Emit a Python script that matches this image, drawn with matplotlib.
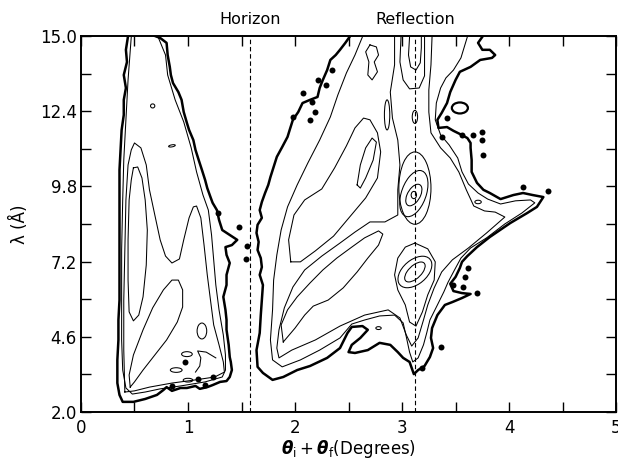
import numpy as np
import matplotlib

matplotlib.use("Agg")
import matplotlib.pyplot as plt
from matplotlib.patches import Ellipse

plt.rcParams["font.family"] = ["DejaVu Sans"]
plt.rcParams["mathtext.fontset"] = "dejavusans"

# --- reference lines ------------------------------------------------------
marker_x = [1.58, 3.12]
marker_labels = ["Horizon", "Reflection"]

# --- axis ticks -----------------------------------------------------------
x_major = [0, 1, 2, 3, 4, 5]
x_minor = [0.5, 1.5, 2.5, 3.5, 4.5]
y_major = [2.0, 4.6, 7.2, 9.8, 12.4, 15.0]
y_minor = [3.3, 5.9, 8.5, 11.1, 13.7]

# --- contour traces, (theta_i + theta_f [deg], lambda [A]) -----------------
# lowest level (heavy line), left lobe
L1 = [(0.44, 15.0), (0.42, 14.52), (0.43, 14.10), (0.40, 13.65), (0.42, 13.20),
      (0.40, 12.79), (0.40, 12.27), (0.38, 11.75), (0.37, 11.06), (0.36, 10.37),
      (0.36, 9.78), (0.36, 8.98), (0.36, 8.29), (0.36, 7.43), (0.36, 6.56),
      (0.36, 5.87), (0.35, 5.18), (0.35, 4.49), (0.34, 3.80), (0.34, 3.00),
      (0.36, 2.59), (0.39, 2.35), (0.49, 2.35), (0.60, 2.45), (0.71, 2.59),
      (0.77, 2.76), (0.80, 2.86), (0.85, 2.73), (0.93, 2.83), (0.99, 2.83),
      (1.07, 2.90), (1.11, 2.80), (1.18, 2.86), (1.23, 2.93), (1.30, 3.04),
      (1.36, 3.07), (1.39, 3.21), (1.41, 3.45), (1.40, 3.73), (1.39, 3.90),
      (1.38, 4.32), (1.36, 4.84), (1.36, 5.18), (1.35, 5.53), (1.33, 5.98),
      (1.36, 6.39), (1.36, 6.74), (1.39, 7.15), (1.36, 7.43), (1.35, 7.70),
      (1.41, 7.77), (1.46, 7.95), (1.39, 8.12), (1.32, 8.29), (1.29, 8.64),
      (1.27, 8.98), (1.23, 9.23), (1.21, 9.43), (1.18, 9.74), (1.16, 10.02),
      (1.13, 10.37), (1.10, 10.71), (1.07, 11.06), (1.05, 11.40), (1.01, 11.75),
      (0.99, 11.99), (0.96, 12.37), (0.94, 12.79), (0.91, 13.06), (0.86, 13.37),
      (0.84, 13.65), (0.83, 13.93), (0.81, 14.34), (0.80, 14.76), (0.74, 14.93),
      (0.69, 15.0)]

# lowest level (heavy line), right lobe
R1 = [(2.51, 14.97), (2.47, 14.76), (2.42, 14.52), (2.38, 14.34), (2.33, 14.17),
      (2.30, 13.82), (2.26, 13.48), (2.23, 13.20), (2.21, 12.89), (2.14, 12.79),
      (2.07, 12.68), (2.03, 12.37), (1.98, 12.10), (1.95, 11.75), (1.93, 11.51),
      (1.88, 11.16), (1.83, 10.82), (1.80, 10.47), (1.77, 10.12), (1.75, 9.85),
      (1.72, 9.57), (1.69, 9.26), (1.67, 8.98), (1.69, 8.71), (1.65, 8.47),
      (1.64, 8.19), (1.66, 7.88), (1.65, 7.60), (1.68, 7.32), (1.69, 7.01),
      (1.67, 6.74), (1.70, 6.39), (1.69, 5.87), (1.68, 5.35), (1.67, 4.73),
      (1.64, 4.14), (1.65, 3.56), (1.70, 3.35), (1.79, 3.11), (1.89, 3.21),
      (2.02, 3.45), (2.14, 3.59), (2.30, 3.87), (2.42, 4.21), (2.49, 4.73),
      (2.53, 4.94), (2.63, 4.97), (2.68, 4.84), (2.61, 4.56), (2.53, 4.32),
      (2.50, 4.07), (2.56, 4.04), (2.68, 4.14), (2.79, 4.39), (2.89, 4.32),
      (2.96, 4.07), (3.01, 3.87), (3.07, 3.73), (3.09, 3.52), (3.11, 3.31),
      (3.15, 3.45), (3.21, 3.59), (3.26, 3.90), (3.29, 4.21), (3.27, 4.56),
      (3.28, 4.90), (3.33, 5.35), (3.40, 5.70), (3.47, 5.80), (3.56, 5.94),
      (3.64, 6.08), (3.56, 6.11), (3.48, 6.18), (3.45, 6.43), (3.50, 6.67),
      (3.54, 6.98), (3.56, 7.19), (3.61, 7.39), (3.70, 7.70), (3.82, 8.05),
      (4.01, 8.53), (4.17, 8.88), (4.26, 9.09), (4.32, 9.43), (4.22, 9.50),
      (4.13, 9.57), (4.04, 9.50), (3.92, 9.36), (3.82, 9.57), (3.76, 9.68),
      (3.70, 9.92), (3.65, 10.30), (3.65, 10.71), (3.64, 11.13), (3.64, 11.30),
      (3.61, 11.47), (3.54, 11.61), (3.48, 11.72), (3.42, 11.85), (3.34, 11.82),
      (3.33, 12.10), (3.37, 12.34), (3.42, 12.68), (3.45, 13.06), (3.50, 13.48),
      (3.54, 13.76), (3.64, 13.93), (3.73, 14.17), (3.84, 14.24), (3.87, 14.34),
      (3.82, 14.52), (3.75, 14.52), (3.71, 14.76), (3.75, 14.97)]

# thin levels, left lobe
L2 = [(0.47, 14.97), (0.44, 13.48), (0.42, 12.10), (0.40, 10.71), (0.39, 9.33),
      (0.38, 7.60), (0.38, 5.87), (0.38, 4.49), (0.39, 3.45), (0.42, 2.83),
      (0.48, 2.62), (0.60, 2.69), (0.74, 2.80), (0.93, 2.90), (1.16, 3.04),
      (1.32, 3.21), (1.35, 3.45), (1.35, 3.97), (1.33, 4.66), (1.29, 5.53),
      (1.26, 6.39), (1.24, 7.26), (1.22, 8.12), (1.19, 8.98), (1.14, 9.50),
      (1.08, 10.30), (1.03, 11.13), (0.96, 12.03), (0.88, 12.79), (0.81, 13.65),
      (0.79, 14.34), (0.72, 14.97)]
L3 = [(0.41, 2.69), (0.40, 4.14), (0.40, 5.87), (0.41, 7.60), (0.42, 9.33),
      (0.44, 10.54), (0.47, 11.06), (0.50, 11.30), (0.56, 11.13), (0.61, 10.54),
      (0.64, 9.68), (0.69, 8.81), (0.74, 7.95), (0.79, 7.39), (0.85, 7.15),
      (0.92, 7.29), (0.96, 7.95), (1.01, 8.71), (1.05, 9.09), (1.08, 9.12),
      (1.12, 8.71), (1.15, 7.77), (1.18, 6.74), (1.21, 5.87), (1.24, 5.01),
      (1.29, 4.32), (1.33, 3.73), (1.34, 3.38), (1.25, 3.21), (1.07, 3.11),
      (0.85, 3.00), (0.64, 2.86), (0.50, 2.73), (0.41, 2.69)]
L4 = [(0.49, 10.44), (0.53, 10.47), (0.57, 10.09), (0.60, 9.33), (0.62, 8.29),
      (0.61, 7.08), (0.58, 5.98), (0.54, 5.35), (0.49, 5.15), (0.45, 5.46),
      (0.44, 6.56), (0.44, 7.95), (0.45, 9.33), (0.47, 10.02), (0.49, 10.44)]
L5 = [(0.46, 2.86), (0.45, 3.28), (0.49, 3.97), (0.58, 4.84), (0.67, 5.60),
      (0.77, 6.22), (0.85, 6.56), (0.91, 6.56), (0.95, 6.22), (0.95, 5.63),
      (0.90, 5.11), (0.80, 4.49), (0.69, 3.97), (0.58, 3.45), (0.50, 3.04),
      (0.46, 2.86)]
L_hook = [(1.26, 3.87), (1.17, 4.07), (1.09, 4.11), (1.12, 3.87), (1.11, 3.59),
          (1.07, 3.38)]

# thin levels, right lobe
R2 = [(2.63, 14.97), (2.56, 14.34), (2.48, 13.72), (2.40, 12.96), (2.33, 12.20),
      (2.23, 11.40), (2.12, 10.61), (2.02, 9.85), (1.93, 9.09), (1.87, 8.29),
      (1.83, 7.43), (1.80, 6.56), (1.79, 5.53), (1.77, 4.49), (1.79, 3.80),
      (1.88, 3.56), (2.05, 3.80), (2.23, 4.14), (2.42, 4.56), (2.53, 5.04),
      (2.65, 5.18), (2.79, 5.32), (2.93, 5.35), (3.01, 5.08), (3.04, 4.59),
      (3.07, 4.07), (3.10, 3.73), (3.15, 3.87), (3.20, 4.32), (3.23, 4.73),
      (3.26, 5.18), (3.33, 5.70), (3.39, 6.15), (3.43, 6.49), (3.49, 6.91),
      (3.55, 7.32), (3.64, 7.67), (3.79, 8.02), (3.96, 8.50), (4.12, 8.88),
      (4.24, 9.23), (4.20, 9.33), (4.06, 9.30), (3.92, 9.19), (3.80, 9.36),
      (3.71, 9.57), (3.62, 9.88), (3.56, 10.30), (3.52, 10.78), (3.44, 11.23),
      (3.36, 11.58), (3.31, 12.10), (3.32, 12.68), (3.36, 13.20), (3.41, 13.55),
      (3.48, 13.82), (3.55, 14.24), (3.61, 14.97)]
R3 = [(2.93, 14.97), (2.93, 14.00), (2.89, 13.06), (2.91, 12.16), (2.96, 11.40),
      (2.98, 10.54), (2.96, 9.68), (2.96, 8.81), (2.84, 8.57), (2.70, 8.57),
      (2.56, 8.22), (2.42, 7.84), (2.25, 7.39), (2.09, 6.91), (1.98, 6.32),
      (1.90, 5.60), (1.85, 4.84), (1.83, 4.21), (1.85, 3.87), (1.97, 4.14),
      (2.19, 4.49), (2.42, 4.97), (2.65, 5.35), (2.87, 5.53), (2.98, 5.25),
      (3.04, 4.66), (3.09, 4.28), (3.15, 4.56), (3.20, 5.18), (3.24, 5.70),
      (3.30, 6.29), (3.37, 6.84), (3.47, 7.26), (3.62, 7.67), (3.79, 8.19),
      (3.96, 8.74), (3.87, 8.91), (3.77, 8.95), (3.67, 9.12), (3.60, 9.68),
      (3.53, 10.30), (3.45, 10.78), (3.36, 11.13), (3.27, 11.65), (3.25, 12.37),
      (3.25, 13.13), (3.27, 14.00), (3.28, 14.97)]
D1 = [(1.89, 4.42), (1.87, 5.01), (1.93, 5.53), (2.02, 5.98), (2.14, 6.46),
      (2.26, 6.91), (2.39, 7.32), (2.53, 7.70), (2.65, 8.02), (2.78, 8.26),
      (2.82, 8.15), (2.78, 7.77), (2.68, 7.32), (2.58, 6.84), (2.45, 6.29),
      (2.31, 5.87), (2.17, 5.66), (2.09, 5.35), (2.00, 4.90), (1.89, 4.42)]
D3 = [(1.96, 7.19), (1.94, 7.95), (1.99, 8.81), (2.09, 9.33), (2.25, 9.71),
      (2.37, 10.44), (2.48, 11.20), (2.56, 11.82), (2.64, 12.16), (2.70, 12.10),
      (2.77, 11.65), (2.80, 10.99), (2.77, 10.09), (2.66, 9.40), (2.51, 8.74),
      (2.36, 8.08), (2.19, 7.57), (2.05, 7.19), (1.96, 7.19)]
D4 = [(2.70, 14.69), (2.76, 14.62), (2.78, 14.34), (2.74, 14.10), (2.77, 13.76),
      (2.72, 13.48), (2.68, 13.65), (2.69, 14.10), (2.66, 14.45), (2.70, 14.69)]
D5 = [(2.58, 9.85), (2.61, 10.54), (2.66, 11.13), (2.72, 11.47), (2.76, 11.33),
      (2.73, 10.71), (2.66, 10.09), (2.61, 9.74), (2.58, 9.85)]
teardrop = [(3.12, 7.84), (3.24, 7.64), (3.31, 7.19), (3.30, 6.56), (3.24, 6.05),
            (3.19, 5.46), (3.13, 4.97), (3.07, 5.11), (3.03, 5.70), (2.96, 6.22),
            (2.93, 6.74), (2.96, 7.32), (3.03, 7.70), (3.12, 7.84)]
top_inner = [(3.07, 14.97), (3.06, 14.34), (3.08, 13.93), (3.13, 13.82),
             (3.17, 14.07), (3.18, 14.59), (3.18, 14.97)]
top_outer = [(2.99, 14.97), (2.98, 14.10), (3.01, 13.48), (3.07, 13.17),
             (3.16, 13.20), (3.21, 13.62), (3.21, 14.34), (3.21, 14.97)]

thick_traces = [L1, R1]
thin_traces = [L2, L3, L4, L5, L_hook, R2, R3, D1, D3, D4, D5, teardrop,
               top_inner, top_outer]

# closed loops: centre x, centre lambda, width, height, tilt
loops = [
    (0.67, 12.58, 0.04, 0.14, 0), (0.85, 11.20, 0.05, 0.09, -30),
    (1.13, 4.80, 0.09, 0.55, 0), (0.99, 4.00, 0.10, 0.17, 0),
    (0.89, 3.45, 0.11, 0.16, 0), (1.00, 3.10, 0.09, 0.13, 0),
    (2.86, 12.27, 0.05, 1.04, 0), (3.12, 12.20, 0.05, 0.45, 0),
    (3.71, 9.26, 0.06, 0.12, 0), (2.78, 4.90, 0.05, 0.10, 0),
    # upper specular peak
    (3.11, 9.50, 0.05, 0.25, 0), (3.11, 9.50, 0.13, 0.75, -6),
    (3.11, 9.55, 0.24, 1.60, -4), (3.12, 9.74, 0.30, 2.50, 0),
    # lower specular peak
    (3.12, 6.84, 0.15, 0.70, -10), (3.12, 6.84, 0.28, 1.10, -8),
]
heavy_loops = [(3.54, 12.51, 0.15, 0.38, 0)]

dots_x = [0.97, 1.09, 1.23, 1.16, 0.85, 1.28, 1.48, 1.55, 1.54,
          2.07, 2.19, 2.14, 1.98, 2.16, 2.21, 2.35, 2.29,
          3.42, 3.37, 3.56, 3.66, 3.75, 3.75, 3.76, 4.13, 4.36,
          3.62, 3.59, 3.57, 3.48, 3.70, 3.36, 3.19]
dots_y = [3.73, 3.14, 3.21, 2.93, 2.90, 8.88, 8.40, 7.74, 7.29,
          13.03, 12.37, 12.09, 12.20, 12.72, 13.48, 13.82, 13.30,
          12.16, 11.51, 11.58, 11.58, 11.68, 11.40, 10.88, 9.78, 9.64,
          6.98, 6.67, 6.32, 6.39, 6.11, 4.25, 3.52]

fig = plt.figure(figsize=(6.18, 4.66), dpi=100)
ax = fig.add_axes([0.131, 0.1159, 0.866, 0.807])

for tr in thick_traces:
    xs, ys = np.array(tr).T
    ax.plot(xs, ys, color="k", lw=1.8, solid_joinstyle="round")
for tr in thin_traces:
    xs, ys = np.array(tr).T
    ax.plot(xs, ys, color="k", lw=0.75, solid_joinstyle="round")
for cx, cy, w, h, ang in loops:
    ax.add_patch(Ellipse((cx, cy), w, h, angle=ang, fill=False, lw=0.75, ec="k"))
for cx, cy, w, h, ang in heavy_loops:
    ax.add_patch(Ellipse((cx, cy), w, h, angle=ang, fill=False, lw=1.6, ec="k"))
ax.plot(dots_x, dots_y, "o", color="k", ms=4.3, mew=0)

for xv, lab in zip(marker_x, marker_labels):
    ax.axvline(xv, color="k", lw=0.8, ls=(0, (4, 2.5)))
    ax.text(xv, 1.045, lab, transform=ax.get_xaxis_transform(),
            ha="center", va="center", fontsize=11.5)

ax.set_xlim(0, 5)
ax.set_ylim(2.0, 15.0)
ax.set_xticks(x_major)
ax.set_xticks(x_minor, minor=True)
ax.set_yticks(y_major)
ax.set_yticks(y_minor, minor=True)
ax.set_xticklabels([str(v) for v in x_major])
ax.set_yticklabels([f"{v:.1f}" for v in y_major])
ax.tick_params(which="both", direction="in", top=True, right=True, width=1.0,
               labelsize=12)
ax.tick_params(axis="y", pad=3)
ax.tick_params(axis="x", pad=5)
ax.tick_params(which="major", length=7.5)
ax.tick_params(which="minor", length=7)
for s in ax.spines.values():
    s.set_linewidth(1.4)

ax.set_xlabel(r"$\boldsymbol{\theta}_{\mathrm{i}}+\boldsymbol{\theta}_{\mathrm{f}}$(Degrees)",
              fontsize=12, labelpad=1)
ax.set_ylabel("λ (Å)", fontsize=12, labelpad=8)

fig.savefig("out.png", dpi=100)
